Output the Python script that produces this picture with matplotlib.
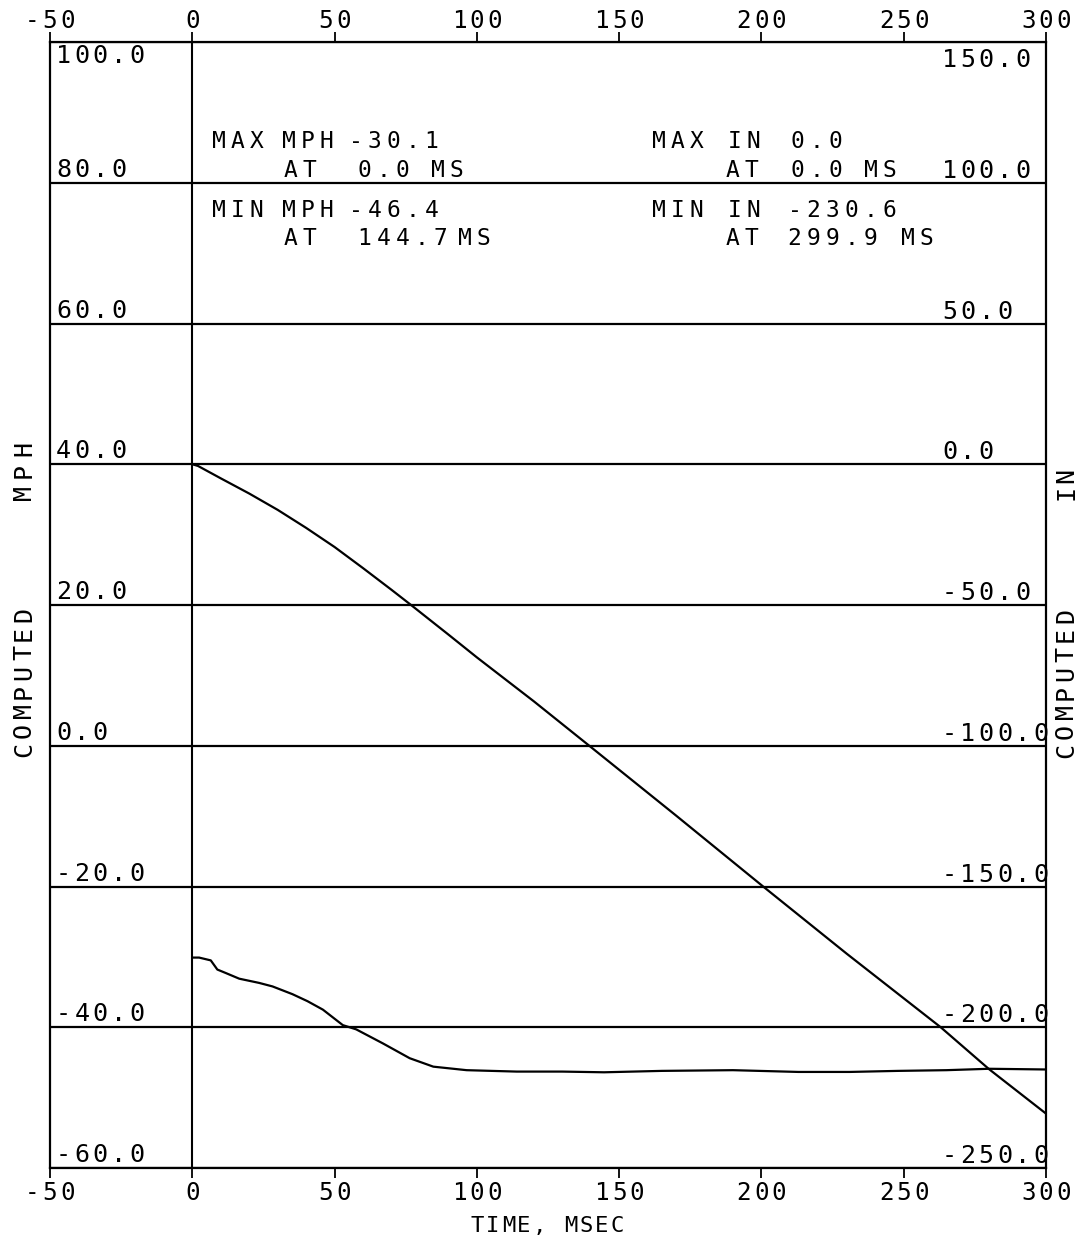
import numpy as np
import matplotlib
matplotlib.use("Agg")
import matplotlib.pyplot as plt
from matplotlib.transforms import ScaledTranslation, blended_transform_factory

# computed velocity trace, MPH against time in ms
vel_time = [0, 2.4, 6.5, 8.8, 11.8, 16.5, 23.5, 28.2, 35.2, 40.5, 45.9, 52.9,
            57.6, 67, 76.4, 84.7, 96.4, 114, 130, 144.7, 165, 190, 213, 231,
            248, 265, 280, 299.9]
vel_mph = [-30.1, -30.1, -30.5, -31.8, -32.3, -33.1, -33.7, -34.2, -35.3, -36.3,
           -37.5, -39.7, -40.3, -42.3, -44.4, -45.6, -46.1, -46.3, -46.3, -46.4,
           -46.2, -46.1, -46.35, -46.35, -46.2, -46.1, -45.9, -46.0]

# computed displacement trace, IN against time in ms
disp_time = [0, 2, 10, 20, 30, 40, 50, 60, 70, 77, 90, 100, 120, 139.5, 170,
             200.6, 230, 263, 280, 299.9]
disp_in = [0, -0.6, -5.0, -10.4, -16.2, -22.6, -29.4, -36.9, -44.6, -50.1,
           -60.5, -68.6, -84.2, -100.0, -124.8, -150.0, -173.9, -200.0,
           -214.9, -230.6]

time_ticks = [-50, 0, 50, 100, 150, 200, 250, 300]
mph_ticks = [100, 80, 60, 40, 20, 0, -20, -40, -60]
in_ticks = [150, 100, 50, 0, -50, -100, -150, -200, -250]

# peak summary printed in the plot body
mph_block = [("MAX", "MPH", "-30.1"), ("AT", "0.0", "MS"),
             ("MIN", "MPH", "-46.4"), ("AT", "144.7", "MS")]
in_block = [("MAX", "IN", "0.0"), ("AT", "0.0", "MS"),
            ("MIN", "IN", "-230.6"), ("AT", "299.9", "MS")]

W, H, DPI = 1084, 1244, 100
FONT = "DejaVu Sans Mono"
GLYPH = 15  # ink width of one plotter character, px

fig = plt.figure(figsize=(W / DPI, H / DPI), dpi=DPI)
fig.patch.set_facecolor("white")
ax = fig.add_axes([50 / W, 1 - 1168 / H, 996 / W, 1126 / H])
ax.set_xlim(-50, 300)
ax.set_ylim(-60, 100)

ax2 = ax.twinx()
ax2.set_ylim(-250, 150)


def pen_text(x, y, s, transform, size, pitch, dx=0, dy=0, vertical=False):
    """Lay a string out on a fixed character pitch (px) like a pen plotter."""
    for i, ch in enumerate(s):
        if ch == " ":
            continue
        step = i * pitch + GLYPH / 2
        if vertical:
            off = ScaledTranslation(dx / DPI, (dy + step) / DPI, fig.dpi_scale_trans)
            fig.text(x, y, ch, transform=transform + off, rotation=90,
                     ha="center", va="center", fontsize=size, family=FONT)
        else:
            off = ScaledTranslation((dx + step) / DPI, dy / DPI, fig.dpi_scale_trans)
            fig.text(x, y, ch, transform=transform + off,
                     ha="center", va="baseline", fontsize=size, family=FONT)


def span(s, pitch):
    return (len(s) - 1) * pitch + GLYPH


# frame, grid and the zero-time line
for side in ["left", "right", "top", "bottom"]:
    ax.spines[side].set_linewidth(1.6)
    ax2.spines[side].set_visible(False)
ax.set_yticks(mph_ticks)
ax.yaxis.grid(True, color="black", linewidth=1.6)
ax.set_axisbelow(True)
ax.axvline(0, color="black", linewidth=1.5)
ax.set_xticks(time_ticks)
ax.tick_params(axis="x", top=True, bottom=True, direction="out", length=7,
               width=1.3, labelbottom=False, labeltop=False)
ax.tick_params(axis="y", left=False, right=False, labelleft=False)
ax2.tick_params(axis="y", right=False, labelright=False)

# traces
ax.plot(vel_time, vel_mph, color="black", linewidth=1.6)
ax2.plot(disp_time, disp_in, color="black", linewidth=1.6)

# scale labels sit inside the frame
left_tr = blended_transform_factory(ax.transAxes, ax.transData)
for v in mph_ticks:
    pen_text(0, v, f"{v:.1f}", left_tr, 18, 18.3, dx=6, dy=-21 if v == 100 else 6)

right_tr = blended_transform_factory(ax2.transAxes, ax2.transData)
for v in in_ticks:
    pen_text(1, v, f"{v:.1f}", right_tr, 18, 18.3, dx=-104, dy=-25 if v == 150 else 5)

x_tr = blended_transform_factory(ax.transData, ax.transAxes)
for t in time_ticks:
    s = str(t)
    half = span(s, 17.5) / 2
    pen_text(t, 1, s, x_tr, 17.5, 17.5, dx=-half, dy=14)
    pen_text(t, 0, s, x_tr, 17.5, 17.5, dx=-half, dy=-32)

# summary blocks, positioned in figure pixels
ft = fig.transFigure
rows_y = [148, 177, 217, 245]
mph_cols = [[211, 281, 348], [283, 357, 430], [211, 281, 348], [283, 357, 457]]
in_cols = [[651, 727, 790], [725, 790, 863], [651, 727, 787], [725, 787, 900]]
for row, cols, y in zip(mph_block, mph_cols, rows_y):
    for word, x in zip(row, cols):
        pen_text(x / W, 1 - y / H, word, ft, 16.5, 19)
for row, cols, y in zip(in_block, in_cols, rows_y):
    for word, x in zip(row, cols):
        pen_text(x / W, 1 - y / H, word, ft, 16.5, 19)

# axis titles
pen_text(24 / W, 1 - 757 / H, "COMPUTED", ft, 18, 19.3, vertical=True)
pen_text(24 / W, 1 - 500 / H, "MPH", ft, 18, 22, vertical=True)
pen_text(1066 / W, 1 - 758 / H, "COMPUTED", ft, 18, 19.3, vertical=True)
pen_text(1066 / W, 1 - 500 / H, "IN", ft, 18, 17, vertical=True)
pen_text(470 / W, 1 - 1232 / H, "TIME, MSEC", ft, 16, 15.5)

fig.savefig("out.png", dpi=DPI, facecolor="white")
